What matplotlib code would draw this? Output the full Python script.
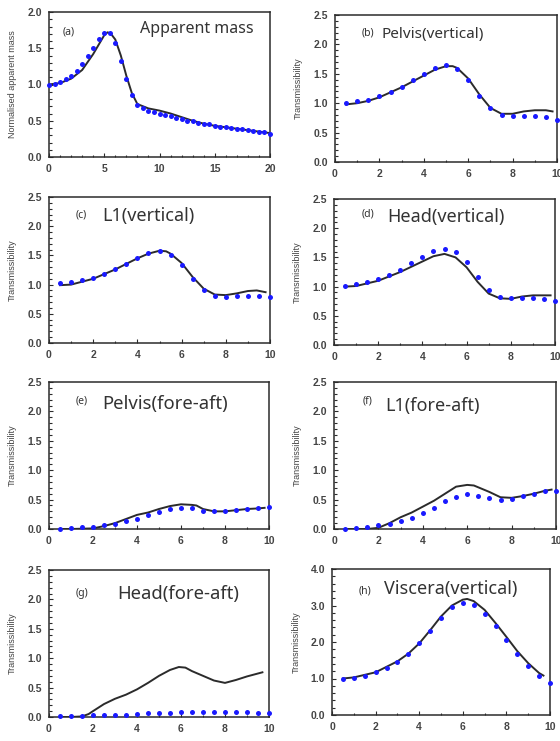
"""
Seated human model vs. measured responses: apparent mass and transmissibilities.
Blue dots = measured, black line = model.
"""

import matplotlib
matplotlib.use("Agg")
import matplotlib.pyplot as plt
from matplotlib.ticker import MultipleLocator, FormatStrFormatter


DOT_BLUE = "#1a1aff"
LINE_BLACK = "#2b2b2b"
TEXT_DARK = "#333333"
TICK_GRAY = "#444444"

# ---- (a) apparent mass, 0-20 Hz ----
FREQ_A_DOTS = [0, 0.5, 1.0, 1.5, 2.0, 2.5, 3.0, 3.5, 4.0, 4.5, 5.0, 5.5, 6.0, 6.5, 7.0,
               7.5, 8.0, 8.5, 9.0, 9.5, 10.0, 10.5, 11.0, 11.5, 12.0, 12.5, 13.0, 13.5,
               14.0, 14.5, 15.0, 15.5, 16.0, 16.5, 17.0, 17.5, 18.0, 18.5, 19.0, 19.5, 20.0]
AM_DOTS = [1.00, 1.01, 1.03, 1.07, 1.12, 1.19, 1.28, 1.39, 1.51, 1.63, 1.71, 1.71, 1.57,
           1.33, 1.07, 0.85, 0.72, 0.67, 0.64, 0.62, 0.60, 0.58, 0.56, 0.54, 0.52, 0.50,
           0.49, 0.47, 0.46, 0.45, 0.43, 0.42, 0.41, 0.40, 0.39, 0.38, 0.37, 0.36, 0.35,
           0.34, 0.32]
FREQ_A_LINE = [0, 1, 2, 3, 4, 4.5, 5, 5.3, 5.6, 6, 6.5, 7, 7.5, 8, 9, 10, 11, 12, 13, 14,
               15, 16, 17, 18, 19, 20]
AM_LINE = [1.00, 1.02, 1.08, 1.20, 1.42, 1.55, 1.68, 1.72, 1.70, 1.62, 1.40, 1.12, 0.88,
           0.73, 0.67, 0.64, 0.60, 0.55, 0.50, 0.46, 0.43, 0.41, 0.39, 0.37, 0.35, 0.33]

# ---- (b)-(h) transmissibilities, 0-10 Hz ----
FREQ_DOTS = [0.5, 1.0, 1.5, 2.0, 2.5, 3.0, 3.5, 4.0, 4.5, 5.0, 5.5, 6.0, 6.5, 7.0, 7.5,
             8.0, 8.5, 9.0, 9.5, 10.0]

PELVIS_V_DOTS = [1.00, 1.03, 1.06, 1.12, 1.19, 1.28, 1.39, 1.50, 1.60, 1.65, 1.59, 1.40,
                 1.13, 0.92, 0.80, 0.78, 0.79, 0.78, 0.76, 0.72]
PELVIS_V_FREQ = [0.5, 1, 1.5, 2, 3, 4, 4.5, 5, 5.3, 5.5, 6, 6.5, 7, 7.5, 8, 8.5, 9, 9.5, 9.8]
PELVIS_V_LINE = [0.98, 1.00, 1.04, 1.10, 1.27, 1.47, 1.57, 1.63, 1.63, 1.60, 1.42, 1.15,
                 0.92, 0.82, 0.82, 0.86, 0.88, 0.88, 0.86]

L1_V_DOTS = [1.02, 1.05, 1.08, 1.12, 1.19, 1.27, 1.36, 1.46, 1.54, 1.58, 1.51, 1.34, 1.10,
             0.90, 0.80, 0.79, 0.81, 0.81, 0.80, 0.78]
L1_V_FREQ = [0.5, 1, 2, 3, 4, 4.5, 5, 5.3, 5.5, 6, 6.5, 7, 7.5, 8, 8.5, 9, 9.4, 9.8]
L1_V_LINE = [0.99, 1.00, 1.10, 1.26, 1.45, 1.53, 1.58, 1.57, 1.53, 1.37, 1.13, 0.93, 0.83,
             0.82, 0.85, 0.89, 0.90, 0.87]

HEAD_V_DOTS = [1.01, 1.04, 1.08, 1.13, 1.20, 1.29, 1.40, 1.51, 1.61, 1.65, 1.60, 1.42,
               1.16, 0.95, 0.83, 0.81, 0.81, 0.81, 0.79, 0.75]
HEAD_V_FREQ = [0.5, 1, 2, 3, 4, 4.5, 5, 5.5, 6, 6.5, 7, 7.5, 8, 8.5, 9, 9.5, 9.8]
HEAD_V_LINE = [1.00, 1.01, 1.10, 1.25, 1.43, 1.52, 1.56, 1.50, 1.33, 1.08, 0.88, 0.80,
               0.79, 0.83, 0.85, 0.85, 0.85]

PELVIS_FA_DOTS = [0.00, 0.02, 0.03, 0.04, 0.06, 0.09, 0.13, 0.17, 0.23, 0.29, 0.34, 0.36,
                  0.35, 0.31, 0.30, 0.31, 0.32, 0.34, 0.36, 0.37]
PELVIS_FA_FREQ = [0.5, 1, 2, 2.5, 3, 3.5, 4, 4.5, 5, 5.5, 6, 6.5, 6.7, 7, 7.5, 8, 8.5, 9,
                  9.5, 9.8]
PELVIS_FA_LINE = [0.00, 0.00, 0.01, 0.05, 0.10, 0.17, 0.24, 0.28, 0.34, 0.39, 0.42, 0.41,
                  0.40, 0.34, 0.30, 0.30, 0.32, 0.34, 0.35, 0.36]

L1_FA_DOTS = [0.00, 0.02, 0.03, 0.06, 0.09, 0.14, 0.19, 0.27, 0.36, 0.47, 0.55, 0.59, 0.56,
              0.52, 0.49, 0.51, 0.56, 0.60, 0.64, 0.65]
L1_FA_FREQ = [0.5, 1.5, 2, 2.5, 3, 3.5, 4, 4.5, 5, 5.5, 6, 6.3, 7, 7.5, 8, 8.5, 9, 9.5, 9.8]
L1_FA_LINE = [0.00, 0.00, 0.02, 0.10, 0.20, 0.28, 0.38, 0.48, 0.60, 0.72, 0.75, 0.74, 0.63,
              0.54, 0.53, 0.56, 0.60, 0.65, 0.67]

HEAD_FA_DOTS = [0.02, 0.02, 0.02, 0.03, 0.03, 0.03, 0.04, 0.05, 0.06, 0.06, 0.07, 0.08,
                0.08, 0.08, 0.08, 0.08, 0.08, 0.08, 0.07, 0.07]
HEAD_FA_FREQ = [0.5, 1, 1.5, 1.8, 2, 2.5, 3, 3.5, 4, 4.5, 5, 5.5, 5.9, 6.2, 6.5, 7, 7.5, 8,
                8.5, 9, 9.5, 9.7]
HEAD_FA_LINE = [0.00, 0.00, 0.01, 0.05, 0.10, 0.22, 0.31, 0.38, 0.47, 0.58, 0.70, 0.80,
                0.85, 0.84, 0.78, 0.70, 0.62, 0.58, 0.63, 0.69, 0.74, 0.76]

VISCERA_V_DOTS = [1.00, 1.02, 1.08, 1.17, 1.28, 1.46, 1.68, 1.96, 2.30, 2.65, 2.95, 3.08,
                  3.02, 2.78, 2.44, 2.06, 1.68, 1.35, 1.08, 0.89]
VISCERA_V_FREQ = [0.5, 1, 2, 3, 3.5, 4, 4.5, 5, 5.5, 6, 6.2, 6.5, 7, 7.5, 8, 8.5, 9, 9.5,
                  9.7]
VISCERA_V_LINE = [1.00, 1.03, 1.17, 1.47, 1.68, 1.96, 2.32, 2.70, 3.00, 3.16, 3.18, 3.12,
                  2.88, 2.52, 2.14, 1.75, 1.42, 1.15, 1.08]

# axes rectangles in figure pixels: (left, top, right, bottom)
FIG_W, FIG_H = 560, 741
PANEL_BOXES = {
    "a": (49, 12, 270, 157),
    "b": (335, 15, 557, 162),
    "c": (49, 197, 270, 343),
    "d": (334, 199, 555, 345),
    "e": (49, 382, 269, 529),
    "f": (334, 382, 556, 529),
    "g": (49, 570, 269, 717),
    "h": (332, 569, 550, 715),
}


def add_axes(fig, key):
    left, top, right, bottom = PANEL_BOXES[key]
    rect = [left / FIG_W, 1 - bottom / FIG_H, (right - left) / FIG_W, (bottom - top) / FIG_H]
    return fig.add_axes(rect)


def style_axes(ax, xmax, xstep, ymax, ystep, yminor, ylabel):
    ax.set_xlim(0, xmax)
    ax.set_ylim(0, ymax)
    ax.xaxis.set_major_locator(MultipleLocator(xstep))
    ax.xaxis.set_minor_locator(MultipleLocator(xstep / 2))
    ax.yaxis.set_major_locator(MultipleLocator(ystep))
    ax.yaxis.set_minor_locator(MultipleLocator(yminor))
    ax.yaxis.set_major_formatter(FormatStrFormatter("%.1f"))
    ax.tick_params(which="both", direction="in", colors=LINE_BLACK, width=0.8)
    ax.tick_params(which="major", length=3, labelsize=7.5, labelcolor=TICK_GRAY, pad=5)
    ax.tick_params(which="minor", length=1.8)
    for lab in ax.get_xticklabels() + ax.get_yticklabels():
        lab.set_fontweight("bold")
        lab.set_family("Liberation Sans")
    for spine in ax.spines.values():
        spine.set_linewidth(1.1)
        spine.set_color(LINE_BLACK)
    ax.set_ylabel(ylabel, fontsize=6.5, color=TICK_GRAY, family="Liberation Sans")
    ax.yaxis.set_label_coords(-0.145, 0.5)


def draw(ax, fx, fy, dx, dy):
    ax.plot(fx, fy, color=LINE_BLACK, lw=1.4, zorder=2)
    ax.plot(dx, dy, "o", color=DOT_BLUE, ms=3.6, mec="none", zorder=3, clip_on=False)


def label(ax, tag, name, tag_xy, name_xy, name_size=10.5):
    ax.text(*tag_xy, tag, transform=ax.transAxes, fontsize=7.5, color=TEXT_DARK,
            family="Noto Sans", va="center", ha="left")
    ax.text(*name_xy, name, transform=ax.transAxes, fontsize=name_size, color=TEXT_DARK,
            family="Noto Sans", va="center", ha="left")


def main():
    fig = plt.figure(figsize=(FIG_W / 100, FIG_H / 100), dpi=100)

    ax = add_axes(fig, "a")
    draw(ax, FREQ_A_LINE, AM_LINE, FREQ_A_DOTS, AM_DOTS)
    style_axes(ax, 20, 5, 2.0, 0.5, 0.1, "Normalised apparent mass")
    ax.xaxis.set_minor_locator(MultipleLocator(1))
    label(ax, "(a)", "Apparent mass", (0.06, 0.86), (0.41, 0.88), 11.5)

    panels = [
        ("b", "(b)", "Pelvis(vertical)", PELVIS_V_FREQ, PELVIS_V_LINE, PELVIS_V_DOTS,
         (0.12, 0.88), (0.21, 0.87), 11),
        ("c", "(c)", "L1(vertical)", L1_V_FREQ, L1_V_LINE, L1_V_DOTS,
         (0.12, 0.88), (0.24, 0.87), 13),
        ("d", "(d)", "Head(vertical)", HEAD_V_FREQ, HEAD_V_LINE, HEAD_V_DOTS,
         (0.127, 0.90), (0.24, 0.88), 13),
        ("e", "(e)", "Pelvis(fore-aft)", PELVIS_FA_FREQ, PELVIS_FA_LINE, PELVIS_FA_DOTS,
         (0.12, 0.87), (0.24, 0.85), 13.3),
        ("f", "(f)", "L1(fore-aft)", L1_FA_FREQ, L1_FA_LINE, L1_FA_DOTS,
         (0.13, 0.87), (0.23, 0.84), 13),
        ("g", "(g)", "Head(fore-aft)", HEAD_FA_FREQ, HEAD_FA_LINE, HEAD_FA_DOTS,
         (0.12, 0.84), (0.31, 0.84), 13.3),
        ("h", "(h)", "Viscera(vertical)", VISCERA_V_FREQ, VISCERA_V_LINE, VISCERA_V_DOTS,
         (0.12, 0.85), (0.24, 0.86), 13),
    ]
    for key, tag, name, fx, fy, dots, tag_xy, name_xy, size in panels:
        ax = add_axes(fig, key)
        draw(ax, fx, fy, FREQ_DOTS, dots)
        if key == "h":
            style_axes(ax, 10, 2, 4.0, 1.0, 0.2, "Transmissibility")
        else:
            style_axes(ax, 10, 2, 2.5, 0.5, 0.1, "Transmissibility")
        label(ax, tag, name, tag_xy, name_xy, size)

    fig.savefig("out.png", dpi=100, facecolor="white")
    plt.close(fig)


if __name__ == "__main__":
    main()
